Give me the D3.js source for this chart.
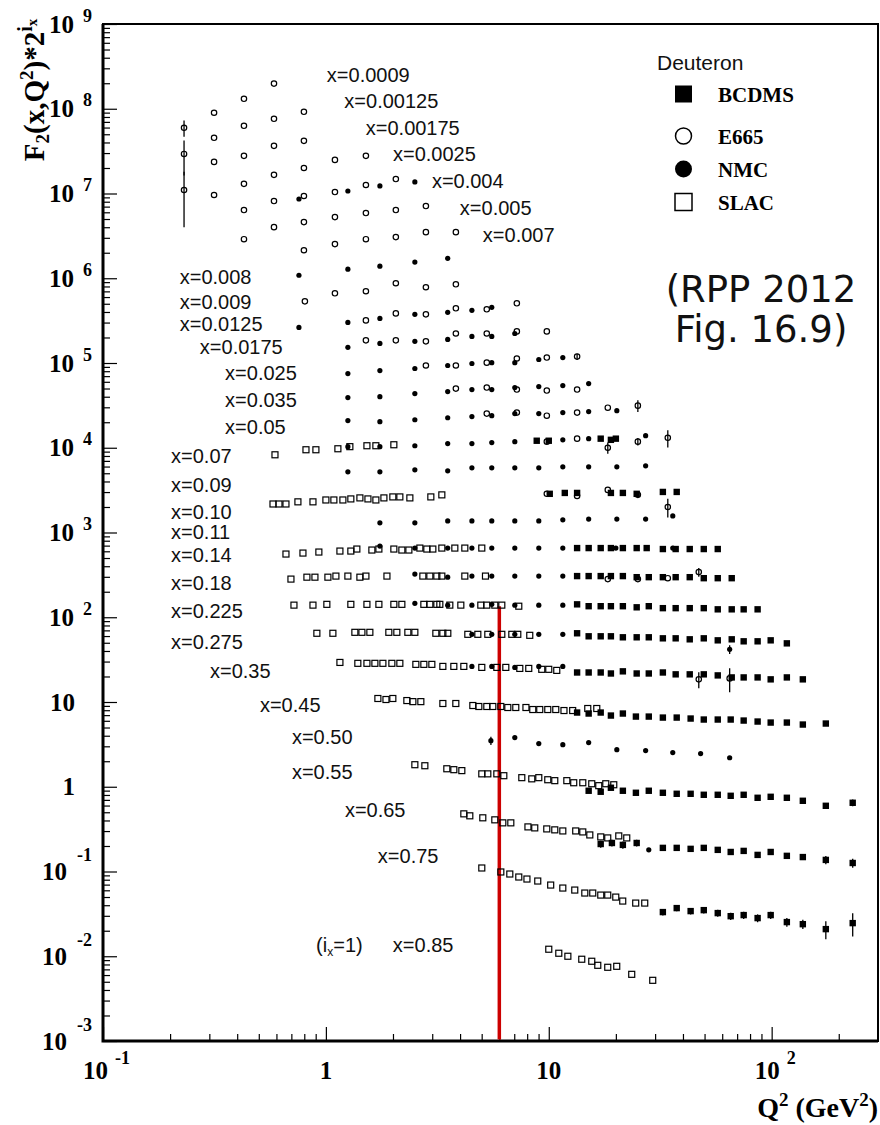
<!DOCTYPE html>
<html>
<head>
<meta charset="utf-8">
<title>F2 deuteron</title>
<script src="https://cdn.jsdelivr.net/npm/d3@7"></script>
<style>
  body { margin: 0; background: #fff; }
</style>
</head>
<body>
<div id="chart"></div>
<script>
// ---- data: [Q2 (GeV^2), F2(x,Q2)*2^ix, error] ----
var e665 = [
  [0.231, 5.96e7, 1.3e7], [0.231, 2.93e7, 1.3e7], [0.231, 1.10e7, 7e6],
  [0.315, 8.97e7], [0.315, 4.54e7], [0.315, 2.36e7], [0.315, 9.6e6],
  [0.429, 1.31e8], [0.429, 6.29e7], [0.429, 2.78e7], [0.429, 1.30e7], [0.429, 6.38e6], [0.429, 2.89e6],
  [0.585, 1.98e8], [0.585, 7.61e7], [0.585, 3.65e7], [0.585, 1.66e7], [0.585, 8.15e6], [0.585, 4.01e6],
  [0.797, 9.2e7], [0.797, 4.18e7], [0.797, 2.0e7], [0.797, 9.34e6], [0.797, 4.6e6], [0.797, 2.14e6], [0.805, 5.34e5],
  [1.098, 2.49e7], [1.098, 1.04e7], [1.098, 5.27e6], [1.098, 2.53e6], [1.098, 6.64e5],
  [1.512, 2.78e7], [1.512, 1.26e7], [1.512, 5.88e6], [1.512, 2.89e6], [1.512, 7.02e5], [1.512, 3.18e5], [1.512, 1.85e5],
  [2.06, 1.48e7], [2.06, 6.38e6], [2.06, 3.06e6], [2.06, 8.73e5], [2.06, 3.85e5], [2.06, 1.85e5],
  [2.81, 7.11e6], [2.81, 3.5e6], [2.81, 7.83e5], [2.81, 3.75e5], [2.81, 1.8e5], [2.81, 9.34e4],
  [3.83, 3.5e6], [3.83, 8.49e5], [3.83, 4.42e5], [3.83, 2.23e5], [3.83, 9.34e4], [3.83, 4.99e4],
  [5.27, 4.3e5], [5.27, 2.23e5], [5.27, 1.01e5], [5.27, 5.13e4], [5.27, 2.53e4],
  [7.19, 5.06e5], [7.19, 2.36e5], [7.19, 1.13e5], [7.19, 4.86e4], [7.19, 2.6e4],
  [9.8, 2.36e5], [9.8, 1.16e5], [9.8, 4.73e4], [9.8, 2.39e4], [9.8, 1.18e4], [9.8, 2.86e3],
  [13.4, 1.19e5, 1e4], [13.4, 4.86e4], [13.4, 2.6e4], [13.4, 1.28e4], [13.4, 2.7e3],
  [18.4, 2.97e4], [18.4, 1.0e4, 1.5e3], [18.4, 3.18e3], [18.4, 282],
  [25.1, 3.14e4, 5e3], [25.1, 1.18e4, 1.2e3], [25.1, 2.78e3], [25.1, 282],
  [34.2, 1.31e4, 3e3], [34.2, 2.0e3, 5e2], [34.2, 289],
  [47.1, 341, 40], [47.1, 18.5, 4],
  [64.8, 19.0, 6]
];

var nmc = [
  [0.757, 8.61e6], [0.757, 1.085e6], [0.757, 2.63e5],
  [1.255, 1.07e7], [1.255, 1.28e6], [1.255, 3.01e5], [1.255, 1.53e5], [1.255, 7.51e4], [1.255, 3.91e4],
  [1.255, 2.09e4], [1.255, 1.03e4], [1.255, 5.2e3],
  [1.747, 1.23e7], [1.747, 1.39e6], [1.747, 3.36e5], [1.747, 1.70e5], [1.747, 8.15e4], [1.747, 4.01e4],
  [1.747, 2.03e4], [1.747, 1.03e4], [1.747, 5.2e3], [1.747, 1.3e3], [1.747, 692],
  [2.507, 1.37e7], [2.507, 1.55e6], [2.507, 3.75e5], [2.507, 1.8e5], [2.507, 8.61e4], [2.507, 4.36e4],
  [2.507, 2.14e4], [2.507, 1.056e4], [2.507, 5.49e3], [2.507, 1.3e3], [2.507, 655], [2.507, 323], [2.507, 146],
  [3.52, 1.72e6], [3.52, 3.96e5], [3.52, 1.9e5], [3.52, 9.34e4], [3.52, 4.6e4], [3.52, 2.26e4],
  [3.52, 1.12e4], [3.52, 5.34e3], [3.52, 1.37e3], [3.52, 655], [3.52, 297], [3.52, 139],
  [4.52, 4.18e5], [4.52, 2.06e5], [4.52, 9.86e4], [4.52, 4.86e4], [4.52, 2.33e4], [4.52, 1.12e4],
  [4.52, 5.8e3], [4.52, 1.37e3], [4.52, 655], [4.52, 306], [4.52, 139], [4.52, 62.9], [4.52, 26.3],
  [5.55, 4.54e5], [5.55, 2.06e5], [5.55, 1.01e5], [5.55, 4.86e4], [5.55, 2.39e4], [5.55, 1.15e4],
  [5.55, 5.8e3], [5.55, 1.37e3], [5.55, 655], [5.55, 306], [5.55, 142], [5.55, 62.9], [5.55, 26.3], [5.5, 3.5, 0.4],
  [7.04, 2.23e5], [7.04, 1.01e5], [7.04, 5.13e4], [7.04, 2.53e4], [7.04, 1.18e4], [7.04, 5.8e3],
  [7.04, 1.37e3], [7.04, 655], [7.04, 306], [7.04, 139], [7.04, 62.9], [7.04, 25.6], [7.04, 3.8],
  [9.02, 1.10e5], [9.02, 5.27e4], [9.02, 2.53e4], [9.02, 5.8e3], [9.02, 1.37e3], [9.02, 655],
  [9.02, 306], [9.02, 139], [9.02, 62.9], [9.02, 26.3], [9.02, 3.23],
  [11.56, 1.16e5], [11.56, 5.42e4], [11.56, 2.6e4], [11.56, 1.24e4], [11.56, 5.96e3], [11.56, 1.41e3],
  [11.56, 655], [11.56, 306], [11.56, 139], [11.56, 62.9], [11.56, 26.3], [11.56, 3.14],
  [15.1, 5.72e4], [15.1, 2.67e4], [15.1, 1.28e4], [15.1, 5.96e3], [15.1, 1.44e3], [15.1, 3.32],
  [20.2, 2.74e4], [20.2, 5.96e3], [20.2, 1.44e3], [20.0, 655], [20.2, 2.74],
  [27.2, 1.39e4], [27.2, 6.12e3], [27.2, 1.44e3], [27.2, 2.67], [28.1, 0.18],
  [36.0, 1.57e3], [36.0, 655], [36.0, 2.53],
  [48.0, 2.46],
  [64.8, 41.8, 5], [64.8, 2.2]
];

var bcdms = [
  // x=0.07
  [8.83, 1.21e4], [10.0, 1.21e4], [17.1, 1.28e4], [19.0, 1.24e4], [20.0, 1.28e4],
  // x=0.10
  [10.1, 2.86e3], [11.8, 2.93e3], [13.4, 2.93e3], [19.0, 2.93e3], [21.5, 2.93e3], [24.8, 2.86e3], [32.5, 3.01e3], [37.5, 3.01e3],
  // x=0.14
  [13.4, 655], [15.1, 655], [17.1, 655], [19.0, 655], [21.5, 655], [24.8, 655], [27.5, 655],
  [32.5, 638], [37.1, 638], [42.9, 638], [49.6, 638], [57.3, 638],
  // x=0.18
  [13.4, 306], [15.1, 306], [17.1, 306], [19.0, 306], [21.5, 306], [24.8, 297], [28.1, 297],
  [32.5, 297], [37.1, 297], [42.9, 297], [49.6, 289], [57.3, 289], [66.2, 289],
  // x=0.225
  [13.4, 142], [15.1, 135], [17.1, 135], [19.0, 135], [21.5, 135], [24.8, 131], [28.1, 135], [32.5, 128],
  [37.1, 128], [42.9, 128], [49.6, 128], [57.3, 124], [66.2, 124], [74.9, 124], [86.5, 124],
  // x=0.275
  [13.4, 64.7], [15.1, 59.6], [17.1, 59.6], [19.0, 59.6], [21.5, 58.0], [24.8, 58.0], [28.1, 58.0], [32.5, 56.4],
  [37.1, 56.4], [42.9, 54.9], [49.6, 56.4], [57.3, 53.4], [66.2, 54.9], [74.9, 52.0], [86.5, 52.0], [99, 53.4], [117, 49.2],
  // x=0.35
  [13.4, 22.3], [15.1, 22.3], [17.1, 22.3], [19.0, 21.7], [21.5, 23.0], [24.8, 21.7], [28.1, 21.7], [32.5, 22.3],
  [37.1, 21.2], [42.9, 21.2], [49.6, 21.2], [57.3, 20.6], [66.2, 19.5], [74.9, 19.5], [86.5, 19.5], [99, 18.5],
  [117, 19.5], [138, 18.5],
  // x=0.45
  [13.4, 7.51], [15.1, 7.31], [17.1, 7.51], [19.0, 6.92], [21.5, 7.31], [24.6, 6.73], [28.1, 6.73], [32.5, 6.55],
  [37.5, 6.55], [43.3, 6.38], [49.6, 6.21], [57.3, 6.21], [65.5, 6.21], [74.9, 6.04], [86.5, 5.88], [99, 5.72],
  [117, 5.72], [138, 5.42], [175, 5.57],
  // x=0.55
  [15.1, 0.897], [17.1, 0.873], [19.0, 0.973], [21.5, 0.897], [24.6, 0.849], [28.1, 0.897], [32.5, 0.849],
  [37.5, 0.826], [43.3, 0.826], [49.6, 0.804], [57.3, 0.804], [65.5, 0.782], [74.9, 0.804], [86.5, 0.741],
  [99, 0.761], [117, 0.741], [138, 0.683], [175, 0.596], [231, 0.647, 0.06],
  // x=0.65
  [17.1, 0.211, 0.02], [19.2, 0.217, 0.02], [21.5, 0.206, 0.02], [24.8, 0.217, 0.02], [32.5, 0.190], [37.5, 0.190],
  [43.3, 0.185], [49.6, 0.190], [57.3, 0.180], [65.5, 0.170], [74.9, 0.175], [86.5, 0.157], [99, 0.170],
  [117, 0.153], [138, 0.148], [175, 0.137, 0.015], [231, 0.126, 0.015],
  // x=0.75
  [32.5, 0.0332, 0.003], [37.5, 0.037, 0.003], [43.3, 0.0341, 0.003], [49.6, 0.035, 0.003], [57.3, 0.0323, 0.003],
  [65.5, 0.0297, 0.003], [74.9, 0.0306, 0.003], [86.5, 0.0282, 0.003], [99, 0.0306, 0.003], [117, 0.0253, 0.003],
  [138, 0.0239, 0.003], [175, 0.0209, 0.005], [231, 0.0246, 0.0075]
];

var slac = [
  // x=0.07
  [0.591, 8.26e3], [0.814, 9.47e3], [0.902, 9.47e3], [1.132, 9.73e3], [1.281, 1.03e4], [1.528, 1.056e4],
  [1.676, 1.056e4], [2.018, 1.085e4],
  // x=0.10
  [0.579, 2.17e3], [0.616, 2.17e3], [0.662, 2.17e3], [0.749, 2.3e3], [0.875, 2.3e3], [1.0, 2.42e3], [1.086, 2.42e3],
  [1.192, 2.42e3], [1.294, 2.49e3], [1.421, 2.56e3], [1.544, 2.49e3], [1.676, 2.42e3], [1.821, 2.56e3],
  [1.997, 2.63e3], [2.147, 2.63e3], [2.381, 2.56e3], [2.957, 2.63e3], [3.313, 2.78e3],
  // x=0.14
  [0.662, 557], [0.789, 572], [0.93, 588], [1.156, 604], [1.294, 604], [1.377, 638], [1.608, 621], [1.729, 638],
  [2.018, 638], [2.192, 621], [2.357, 621], [2.64, 655], [2.837, 638], [3.019, 638], [3.313, 655], [3.789, 655],
  [4.201, 655], [5.006, 655],
  // x=0.18
  [0.697, 282], [0.822, 297], [0.893, 297], [1.021, 297], [1.109, 306], [1.255, 306], [1.421, 297], [1.512, 306],
  [1.879, 306], [2.723, 306], [2.927, 306], [3.146, 306], [3.313, 306], [4.201, 306], [5.2, 306],
  // x=0.225
  [0.719, 139], [0.875, 139], [1.01, 142], [1.294, 142], [1.528, 142], [1.729, 142], [2.018, 142], [2.192, 142],
  [2.751, 142], [2.927, 142], [3.146, 142], [3.245, 142], [3.598, 139], [4.031, 139], [4.955, 139], [5.272, 139],
  [5.727, 139], [6.156, 139], [7.336, 135],
  // x=0.275
  [0.911, 64.7], [1.075, 64.7], [1.349, 66.4], [1.451, 66.4], [1.575, 66.4], [1.916, 66.4], [2.081, 66.4],
  [2.332, 66.4], [2.507, 66.4], [3.114, 64.7], [3.348, 64.7], [3.524, 64.7], [4.333, 62.9], [4.805, 62.9],
  [5.327, 62.9], [6.156, 62.9], [6.826, 62.9], [7.261, 62.9], [8.217, 61.2],
  // x=0.35
  [1.156, 29.3], [1.391, 28.6], [1.528, 28.6], [1.659, 28.6], [1.802, 28.6], [1.977, 28.6], [2.147, 28.6],
  [2.533, 27.8], [2.751, 27.8], [2.988, 27.8], [3.348, 26.3], [3.75, 26.3], [4.158, 26.3], [5.006, 25.6],
  [5.847, 25.6], [6.416, 25.6], [7.413, 24.9], [8.132, 24.9], [9.302, 24.3], [10.0, 24.3], [10.86, 23.6],
  // x=0.45
  [1.711, 11.0], [1.86, 10.7], [1.997, 11.0], [2.308, 10.4], [2.456, 10.1], [2.667, 10.1], [3.348, 9.6],
  [3.828, 9.6], [4.563, 9.09], [4.855, 8.85], [5.272, 8.85], [5.61, 8.85], [6.093, 8.85], [6.55, 8.61],
  [7.112, 8.61], [7.899, 8.61], [8.476, 8.15], [9.111, 8.15], [9.897, 8.15], [10.75, 8.15], [11.7, 7.93],
  [12.8, 7.93], [14.96, 8.38], [16.42, 8.38],
  // x=0.55
  [2.507, 1.82], [2.78, 1.77], [3.488, 1.63], [3.75, 1.59], [4.073, 1.55], [5.006, 1.42], [5.327, 1.42],
  [5.847, 1.42], [6.285, 1.35], [7.568, 1.28], [8.389, 1.24], [9.02, 1.28], [9.897, 1.21], [10.64, 1.18],
  [12.05, 1.18], [12.94, 1.115], [14.21, 1.115], [15.59, 1.085], [16.76, 1.03], [18.02, 1.085], [19.57, 1.056],
  // x=0.65
  [4.158, 0.479], [4.423, 0.454], [5.058, 0.43], [5.727, 0.407], [6.22, 0.375], [6.756, 0.375], [8.064, 0.336],
  [8.652, 0.327], [9.795, 0.318], [10.64, 0.31], [11.56, 0.301], [13.21, 0.301], [14.21, 0.293], [15.28, 0.27],
  [17.11, 0.256], [18.39, 0.249], [20.61, 0.263], [22.38, 0.249],
  // x=0.75
  [5.006, 0.110], [6.093, 0.0987], [6.686, 0.0934], [7.336, 0.0861], [7.981, 0.0815], [8.924, 0.0772],
  [10.2, 0.0692], [11.56, 0.0638], [13.08, 0.0604], [14.51, 0.0557], [15.75, 0.0557], [17.11, 0.0527],
  [18.39, 0.0527], [19.98, 0.0499], [21.47, 0.0448], [24.55, 0.0424], [26.95, 0.0424],
  // x=0.85
  [10.0, 0.0121], [11.09, 0.01085], [12.18, 0.0100], [14.06, 0.00922], [15.59, 0.00873], [16.59, 0.00782],
  [18.39, 0.00741], [20.18, 0.00761], [23.56, 0.00612], [29.27, 0.0052]
];

// x-bin labels: [text, Q2, F2*2^ix] where the label starts
var binLabels = [
  ["x=0.0009", 1.01, 2.5e8], ["x=0.00125", 1.21, 1.24e8], ["x=0.00175", 1.51, 5.96e7],
  ["x=0.0025", 2.0, 2.93e7], ["x=0.004", 2.99, 1.41e7], ["x=0.005", 3.99, 6.73e6],
  ["x=0.007", 5.06, 3.23e6], ["x=0.008", 0.221, 1.03e6], ["x=0.009", 0.221, 5.34e5],
  ["x=0.0125", 0.221, 2.93e5], ["x=0.0175", 0.272, 1.57e5], ["x=0.025", 0.353, 7.72e4],
  ["x=0.035", 0.353, 3.7e4], ["x=0.05", 0.353, 1.77e4], ["x=0.07", 0.202, 8.04e3],
  ["x=0.09", 0.202, 3.65e3], ["x=0.10", 0.202, 1.75e3], ["x=0.11", 0.202, 1.01e3],
  ["x=0.14", 0.202, 542], ["x=0.18", 0.202, 252], ["x=0.225", 0.202, 118],
  ["x=0.275", 0.202, 52], ["x=0.35", 0.302, 23.6], ["x=0.45", 0.506, 9.33],
  ["x=0.50", 0.704, 3.91], ["x=0.55", 0.704, 1.51], ["x=0.65", 1.217, 0.535],
  ["x=0.75", 1.711, 0.152], ["x=0.85", 1.997, 0.0135]
];
var ixNote = [0.904, 0.0135];

var xExponents = [-1, 0, 1, 2];
var yExponents = d3.range(-3, 10);
var redLine = { q2: 6.0, top: 135 };
var legendItems = ["BCDMS", "E665", "NMC", "SLAC"];

// ---- drawing ----
var W = 880, H = 1125;
var serif = "'Liberation Serif', 'Times New Roman', serif";
var sans = "'Liberation Sans', Arial, sans-serif";

var svg = d3.select("#chart").append("svg")
  .attr("width", W).attr("height", H)
  .style("background", "#fff");

var x = d3.scaleLog().domain([0.1, 300]).range([103, 878]);
var y = d3.scaleLog().domain([1e-3, 1e9]).range([1041, 24]);

function minors(lo, hi) {
  var out = [];
  for (var e = lo; e < hi; e++) {
    for (var k = 2; k <= 9; k++) out.push(k * Math.pow(10, e));
  }
  return out;
}

// ticks (inward)
var gy = svg.append("g").attr("transform", "translate(" + x.range()[0] + ",0)");
gy.call(d3.axisLeft(y).tickValues(yExponents.map(function (e) { return Math.pow(10, e); }))
  .tickSize(-14).tickFormat(""));
gy.select(".domain").remove();
var gy2 = svg.append("g").attr("transform", "translate(" + x.range()[0] + ",0)");
gy2.call(d3.axisLeft(y).tickValues(minors(-3, 9)).tickSize(-7).tickFormat(""));
gy2.select(".domain").remove();

var gx = svg.append("g").attr("transform", "translate(0," + y.range()[0] + ")");
gx.call(d3.axisBottom(x).tickValues(xExponents.map(function (e) { return Math.pow(10, e); }))
  .tickSize(-14).tickFormat(""));
gx.select(".domain").remove();
var gx2 = svg.append("g").attr("transform", "translate(0," + y.range()[0] + ")");
gx2.call(d3.axisBottom(x).tickValues(minors(-1, 2).concat([200])).tickSize(-7).tickFormat(""));
gx2.select(".domain").remove();
svg.selectAll(".tick line").attr("stroke", "#000").attr("stroke-width", 1.2);

// frame
svg.append("rect")
  .attr("x", x.range()[0]).attr("y", y.range()[1])
  .attr("width", x.range()[1] - x.range()[0]).attr("height", y.range()[0] - y.range()[1])
  .attr("fill", "none").attr("stroke", "#000").attr("stroke-width", 2);
svg.append("path")
  .attr("d", "M" + x.range()[0] + "," + y.range()[1] + "V" + y.range()[0] + "H" + x.range()[1])
  .attr("fill", "none").attr("stroke", "#000").attr("stroke-width", 3);

// y tick labels
yExponents.forEach(function (e) {
  var yy = y(Math.pow(10, e));
  var t = svg.append("text")
    .attr("y", yy + 8.5)
    .attr("font-family", serif).attr("font-weight", "bold").attr("font-size", 25);
  if (e === 0 || e === 1) {
    t.attr("x", 75).attr("text-anchor", "end").text(e === 0 ? "1" : "10");
  } else {
    t.attr("x", 92).attr("text-anchor", "end").text("10");
    t.append("tspan").attr("dx", e < 0 ? 10 : 9).attr("dy", e < 0 ? -19 : -11)
      .attr("font-size", 18).text(String(e));
  }
});

// x tick labels
xExponents.forEach(function (e) {
  var xx = x(Math.pow(10, e));
  var t = svg.append("text")
    .attr("y", 1079).attr("text-anchor", "middle")
    .attr("font-family", serif).attr("font-weight", "bold").attr("font-size", 25);
  if (e === 0 || e === 1) {
    t.attr("x", xx).text(e === 0 ? "1" : "10");
  } else {
    t.attr("x", xx + 3.5).text("10");
    t.append("tspan").attr("dx", 7).attr("dy", -15).attr("font-size", 18).text(String(e));
  }
});

// axis titles
var yt = svg.append("text")
  .attr("transform", "translate(44,90) rotate(-90)")
  .attr("text-anchor", "middle")
  .attr("font-family", serif).attr("font-weight", "bold").attr("font-size", 29);
yt.append("tspan").text("F");
yt.append("tspan").attr("dy", 5).attr("font-size", 19).text("2");
yt.append("tspan").attr("dy", -5).text("(x,Q");
yt.append("tspan").attr("dy", -11).attr("font-size", 19).text("2");
yt.append("tspan").attr("dy", 11).text(")*2");
yt.append("tspan").attr("dy", -12).attr("font-size", 20).text("i");
yt.append("tspan").attr("dy", 5).attr("font-size", 15).text("x");

var xt = svg.append("text")
  .attr("x", 878).attr("y", 1117).attr("text-anchor", "end")
  .attr("font-family", serif).attr("font-weight", "bold").attr("font-size", 28);
xt.append("tspan").text("Q");
xt.append("tspan").attr("dy", -11).attr("font-size", 19).text("2");
xt.append("tspan").attr("dy", 11).text(" (GeV");
xt.append("tspan").attr("dy", -11).attr("font-size", 19).text("2");
xt.append("tspan").attr("dy", 11).text(")");

// red marker line
svg.append("line")
  .attr("x1", x(redLine.q2)).attr("x2", x(redLine.q2))
  .attr("y1", y(redLine.top)).attr("y2", y.range()[0] - 1.5)
  .attr("stroke", "#cc0000").attr("stroke-width", 3.5);

// error bars
function errBars(data) {
  svg.append("g").selectAll("line")
    .data(data.filter(function (d) { return d[2]; }))
    .join("line")
    .attr("x1", function (d) { return x(d[0]); })
    .attr("x2", function (d) { return x(d[0]); })
    .attr("y1", function (d) { return y(Math.max(d[1] - d[2], 1e-4)); })
    .attr("y2", function (d) { return y(d[1] + d[2]); })
    .attr("stroke", "#000").attr("stroke-width", 1.3);
}
[slac, bcdms, nmc, e665].forEach(errBars);

// markers
svg.append("g").selectAll("rect").data(slac).join("rect")
  .attr("x", function (d) { return x(d[0]) - 3; })
  .attr("y", function (d) { return y(d[1]) - 3; })
  .attr("width", 6).attr("height", 6)
  .attr("fill", "none").attr("stroke", "#000").attr("stroke-width", 1.2);

svg.append("g").selectAll("rect").data(bcdms).join("rect")
  .attr("x", function (d) { return x(d[0]) - 3.2; })
  .attr("y", function (d) { return y(d[1]) - 3.2; })
  .attr("width", 6.4).attr("height", 6.4)
  .attr("fill", "#000");

svg.append("g").selectAll("circle").data(nmc).join("circle")
  .attr("cx", function (d) { return x(d[0]); })
  .attr("cy", function (d) { return y(d[1]); })
  .attr("r", 2.6).attr("fill", "#000");

svg.append("g").selectAll("circle").data(e665).join("circle")
  .attr("cx", function (d) { return x(d[0]); })
  .attr("cy", function (d) { return y(d[1]); })
  .attr("r", 2.7).attr("fill", "none").attr("stroke", "#000").attr("stroke-width", 1.2);

// bin labels
svg.append("g").selectAll("text").data(binLabels).join("text")
  .attr("x", function (d) { return x(d[1]); })
  .attr("y", function (d) { return y(d[2]); })
  .attr("dy", "0.36em")
  .attr("font-family", sans).attr("font-size", 20).attr("fill", "#111")
  .text(function (d) { return d[0]; });

var note = svg.append("text")
  .attr("x", x(ixNote[0])).attr("y", y(ixNote[1])).attr("dy", "0.36em")
  .attr("font-family", sans).attr("font-size", 20).attr("fill", "#111");
note.append("tspan").text("(i");
note.append("tspan").attr("dy", 4).attr("font-size", 12).text("x");
note.append("tspan").attr("dy", -4).text("=1)");

// legend
svg.append("text").attr("x", 657).attr("y", 70)
  .attr("font-family", sans).attr("font-size", 21).attr("fill", "#111").text("Deuteron");
var legY = [94, 136, 169, 202];
var leg = svg.append("g");
leg.append("rect").attr("x", 675).attr("y", legY[0] - 8.5).attr("width", 17).attr("height", 17).attr("fill", "#000");
leg.append("circle").attr("cx", 683.5).attr("cy", legY[1]).attr("r", 8).attr("fill", "none").attr("stroke", "#000").attr("stroke-width", 1.5);
leg.append("circle").attr("cx", 683.5).attr("cy", legY[2]).attr("r", 8.5).attr("fill", "#000");
leg.append("rect").attr("x", 675).attr("y", legY[3] - 8.5).attr("width", 17).attr("height", 17).attr("fill", "none").attr("stroke", "#000").attr("stroke-width", 1.5);
leg.selectAll("text").data(legendItems).join("text")
  .attr("x", 718).attr("y", function (d, i) { return legY[i] + 7.5; })
  .attr("font-family", serif).attr("font-weight", "bold").attr("font-size", 21)
  .text(function (d) { return d; });

// figure reference
svg.append("text").attr("x", 761).attr("y", 302).attr("text-anchor", "middle")
  .attr("font-family", "'DejaVu Sans', sans-serif").attr("font-size", 37).attr("fill", "#111")
  .text("(RPP 2012");
svg.append("text").attr("x", 761).attr("y", 342).attr("text-anchor", "middle")
  .attr("font-family", "'DejaVu Sans', sans-serif").attr("font-size", 37).attr("fill", "#111")
  .text("Fig. 16.9)");
</script>
</body>
</html>
